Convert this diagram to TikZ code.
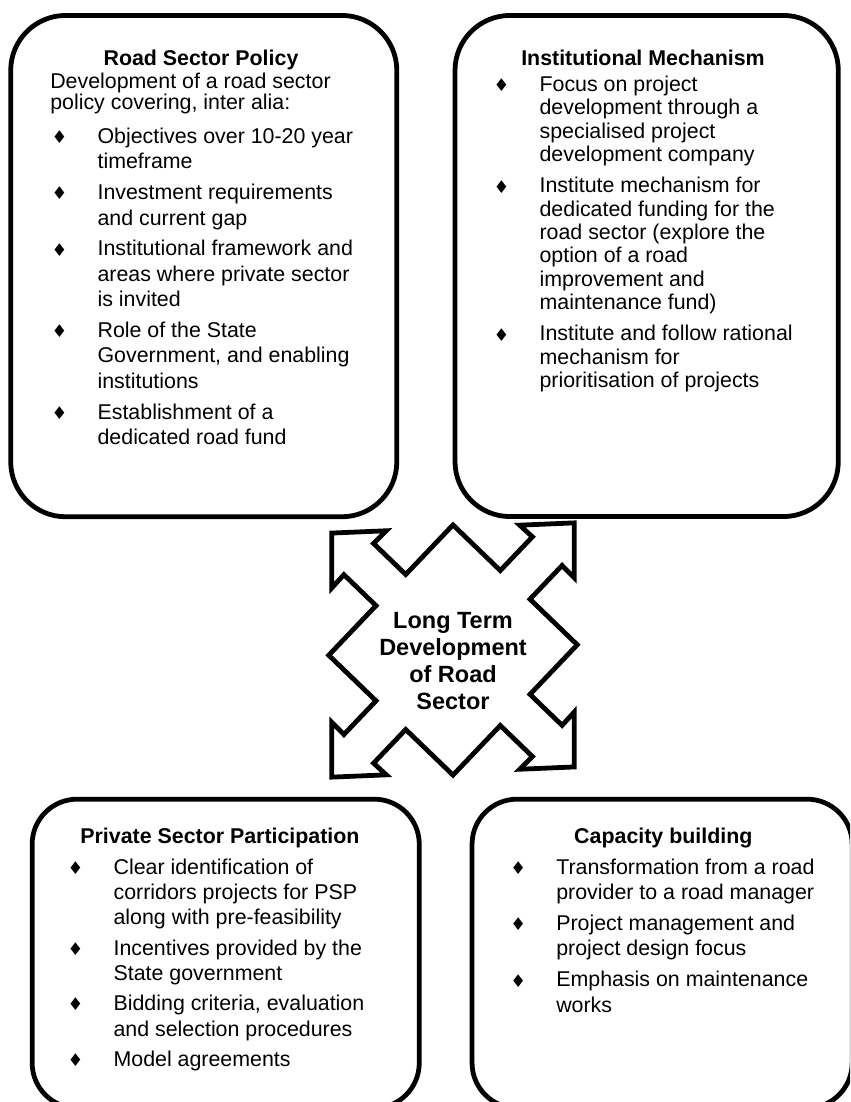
\documentclass[tikz,border=0pt]{standalone}
\usepackage{fontspec}
\setmainfont{Liberation Sans}
\newfontfamily\symfont{DejaVu Sans}
\usepackage{tikz}
\usetikzlibrary{positioning}

% diamond bullet in a fixed hanging column
\newcommand{\bul}{\makebox[1.9cm]{\raisebox{-0.2pt}{\symfont\fontsize{12.5}{12.5}\selectfont ♦}}}

\begin{document}
\begin{tikzpicture}[x=0.025cm, y=-0.025cm,
    panel/.style={draw, line width=3.4pt, inner sep=0pt},
    head/.style={font=\fontsize{15.2}{18}\selectfont\bfseries, anchor=base, inner sep=0pt},
    body/.style={anchor=base west, inner sep=0pt}]

\useasboundingbox (0,0) rectangle (850,1102);
\clip (0,0) rectangle (850,1102);

% the four panels
\node[panel, rounded corners=1.375cm, minimum width=9.65cm, minimum height=12.53cm] (policy) at (203.75,266.1) {};
\node[panel, rounded corners=1.375cm, minimum width=9.58cm, minimum height=12.525cm] (mechanism) at (646.65,266) {};
\node[panel, rounded corners=1.125cm, minimum width=9.675cm, minimum height=7.72cm] (private) at (225.7,953.6) {};
\node[panel, rounded corners=1.125cm, minimum width=9.5cm, minimum height=7.72cm] (capacity) at (662.1,953.6) {};

% Road Sector Policy
\node[head] (policyhead) at (201,65.5) {Road Sector Policy};
\node[body, font=\fontsize{15.2}{18.1}\selectfont] (policyintro) at (50,88.3) {\begin{tabular}[t]{@{}l@{}}
Development of a road sector\\[-2.7pt]
policy covering, inter alia:
\end{tabular}};
\node[body, font=\fontsize{15.2}{18.14}\selectfont] (policylist) at (21.3,143.3) {\begin{tabular}[t]{@{}l@{}l@{}}
\bul & Objectives over 10-20 year\\
 & timeframe\\[3.7pt]
\bul & Investment requirements\\
 & and current gap\\[3.7pt]
\bul & Institutional framework and\\
 & areas where private sector\\
 & is invited\\[3.7pt]
\bul & Role of the State\\
 & Government, and enabling\\
 & institutions\\[3.7pt]
\bul & Establishment of a\\
 & dedicated road fund
\end{tabular}};

% Institutional Mechanism
\node[head] (mechanismhead) at (643,65.5) {Institutional Mechanism};
\node[body, font=\fontsize{15.2}{16.6}\selectfont] (mechanismlist) at (463.3,91.5) {\begin{tabular}[t]{@{}l@{}l@{}}
\bul & Focus on project\\
 & development through a\\
 & specialised project\\
 & development company\\[5.7pt]
\bul & Institute mechanism for\\
 & dedicated funding for the\\
 & road sector (explore the\\
 & option of a road\\
 & improvement and\\
 & maintenance fund)\\[5.7pt]
\bul & Institute and follow rational\\
 & mechanism for\\
 & prioritisation of projects
\end{tabular}};

% Private Sector Participation
\node[head] (privatehead) at (220,843.3) {Private Sector Participation};
\node[body, font=\fontsize{15.2}{18}\selectfont] (privatelist) at (37.3,874) {\begin{tabular}[t]{@{}l@{}l@{}}
\bul & Clear identification of\\
 & corridors projects for PSP\\
 & along with pre-feasibility\\[3.6pt]
\bul & Incentives provided by the\\
 & State government\\[3.6pt]
\bul & Bidding criteria, evaluation\\
 & and selection procedures\\[3.6pt]
\bul & Model agreements
\end{tabular}};

% Capacity building
\node[head] (capacityhead) at (663.3,843.3) {Capacity building};
\node[body, font=\fontsize{15.2}{18}\selectfont] (capacitylist) at (480,874) {\begin{tabular}[t]{@{}l@{}l@{}}
\bul & Transformation from a road\\
 & provider to a road manager\\[4.1pt]
\bul & Project management and\\
 & project design focus\\[4.1pt]
\bul & Emphasis on maintenance\\
 & works
\end{tabular}};

% four-way arrow in the middle
\begin{scope}[shift={(453,650)}, yslant=0.042, x=3.03cm, y=3.05cm]
\draw[line width=3.4pt, fill=white]
  (0,1.025) -- (0.39,0.635) -- (0.655,0.9) -- (0.55,1) -- (1,1) -- (1,0.55) -- (0.9,0.655) -- (0.635,0.39)
  -- (1.025,0) -- (0.635,-0.39) -- (0.9,-0.655) -- (1,-0.55) -- (1,-1) -- (0.55,-1) -- (0.655,-0.9) -- (0.39,-0.635)
  -- (0,-1.025) -- (-0.39,-0.635) -- (-0.655,-0.9) -- (-0.55,-1) -- (-1,-1) -- (-1,-0.55) -- (-0.9,-0.655) -- (-0.635,-0.39)
  -- (-1.025,0) -- (-0.635,0.39) -- (-0.9,0.655) -- (-1,0.55) -- (-1,1) -- (-0.55,1) -- (-0.655,0.9) -- (-0.39,0.635)
  -- cycle;
\end{scope}
\node[font=\fontsize{16.7}{19}\selectfont\bfseries, align=center, inner sep=0pt] (goal) at (453,661) {Long Term\\Development\\of Road\\Sector};

\end{tikzpicture}
\end{document}
